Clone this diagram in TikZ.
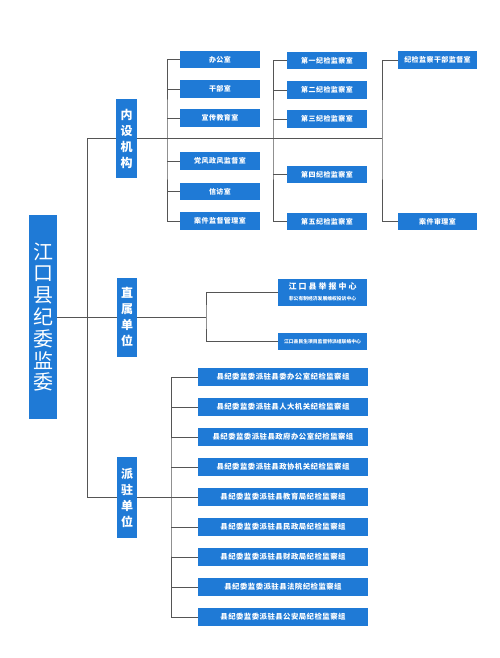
\documentclass[tikz,border=0pt]{standalone}
\usepackage{fontspec}
\newfontfamily\cjk{Noto Sans CJK SC}
\definecolor{boxblue}{RGB}{31,122,214}
\definecolor{linegray}{RGB}{85,85,85}
\begin{document}
\begin{tikzpicture}[x=1pt,y=-1pt,
  box/.style={fill=boxblue,text=white,inner sep=0pt,align=center,font=\cjk\bfseries},
  sbox/.style={box,minimum width=80pt,minimum height=17.5pt,font=\cjk\bfseries\fontsize{7}{8}\selectfont\addfontfeature{LetterSpace=6}},
  ebox/.style={box,minimum width=170pt,minimum height=18.5pt,font=\cjk\bfseries\fontsize{7.4}{9}\selectfont\addfontfeature{LetterSpace=6}},
  vbox/.style={box,minimum width=20.5pt,font=\cjk\bfseries\fontsize{12}{16}\selectfont},
  conn/.style={draw=linegray,line width=0.8pt}]
\useasboundingbox[fill=white] (0,0) rectangle (500,658);
% root and categories
\node[box,minimum width=28pt,minimum height=204pt,font=\cjk\fontsize{20}{21.8}\selectfont] (root) at (43,317) {江\\口\\县\\纪\\委\\监\\委};
\node[vbox,minimum height=79pt] (c1) at (126.5,138.5) {内\\设\\机\\构};
\node[vbox,minimum height=79pt] (c2) at (127,317) {直\\属\\单\\位};
\node[vbox,minimum height=81pt] (c3) at (127,497.5) {派\\驻\\单\\位};
% first branch boxes
\node[sbox] (a1) at (220,59.5) {办公室};
\node[sbox] (a2) at (220,89) {干部室};
\node[sbox] (a3) at (220,118) {宣传教育室};
\node[sbox] (a4) at (220,161) {党风政风监督室};
\node[sbox] (a5) at (220,191.5) {信访室};
\node[sbox] (a6) at (220,221) {案件监督管理室};
\node[sbox] (b1) at (327,60.5) {第一纪检监察室};
\node[sbox] (b2) at (327,90) {第二纪检监察室};
\node[sbox] (b3) at (327,119) {第三纪检监察室};
\node[sbox] (b4) at (327,174.5) {第四纪检监察室};
\node[sbox] (b5) at (327,221.5) {第五纪检监察室};
\node[sbox,minimum width=79pt] (k1) at (437.5,60) {纪检监察干部监督室};
\node[sbox,minimum width=79pt] (k2) at (437.5,221.5) {案件审理室};
% second branch
\node[box,minimum width=89pt,minimum height=27pt] (d1) at (322.5,292) {{\fontsize{8}{10}\selectfont\addfontfeature{LetterSpace=25}江口县举报中心}\\[-1pt]{\fontsize{4.8}{6}\selectfont 非公有制经济发展维权投诉中心}};
\node[box,minimum width=89pt,minimum height=17pt,font=\cjk\bfseries\fontsize{4.8}{6}\selectfont] (d2) at (322.5,341.5) {江口县民生项目监督特派组联络中心};
% third branch
\node[ebox] (e1) at (283,377) {县纪委监委派驻县委办公室纪检监察组};
\node[ebox] (e2) at (283,407) {县纪委监委派驻县人大机关纪检监察组};
\node[ebox] (e3) at (283,437) {县纪委监委派驻县政府办公室纪检监察组};
\node[ebox] (e4) at (283,467) {县纪委监委派驻县政协机关纪检监察组};
\node[ebox] (e5) at (283,497) {县纪委监委派驻县教育局纪检监察组};
\node[ebox] (e6) at (283,527) {县纪委监委派驻县民政局纪检监察组};
\node[ebox] (e7) at (283,557) {县纪委监委派驻县财政局纪检监察组};
\node[ebox] (e8) at (283,587) {县纪委监委派驻县法院纪检监察组};
\node[ebox] (e9) at (283,617) {县纪委监委派驻县公安局纪检监察组};
% bus coordinates
\coordinate (t1) at (87,138.5);
\coordinate (t3) at (87,497.5);
\coordinate (p1) at (167,138.5);
\coordinate (p2) at (273,138.5);
\coordinate (p3) at (382,138.5);
\coordinate (q1) at (206,317);
\coordinate (r1) at (171,497.5);
% connectors
\draw[conn] (root.east) -- (c2.west);
\draw[conn] (c1.west) -- (t1) -- (t3) -- (c3.west);
\draw[conn] (c1.east) -- (p3);
\draw[conn] (a1.west) -| (p1) |- (a6.west);
\foreach \n in {a2,a3,a4,a5} \draw[conn] (\n.west) -- (\n.west -| p1);
\draw[conn] (b1.west) -| (p2) |- (b5.west);
\foreach \n in {b2,b3,b4} \draw[conn] (\n.west) -- (\n.west -| p2);
\draw[conn] (k1.west) -| (p3) |- (k2.west);
\draw[conn] (c2.east) -- (q1);
\draw[conn] (d1.west) -| (q1) |- (d2.west);
\draw[conn] (c3.east) -- (r1);
\draw[conn] (e1.west) -| (r1) |- (e9.west);
\foreach \n in {e2,e3,e4,e5,e6,e7,e8} \draw[conn] (\n.west) -- (\n.west -| r1);
\end{tikzpicture}
\end{document}
